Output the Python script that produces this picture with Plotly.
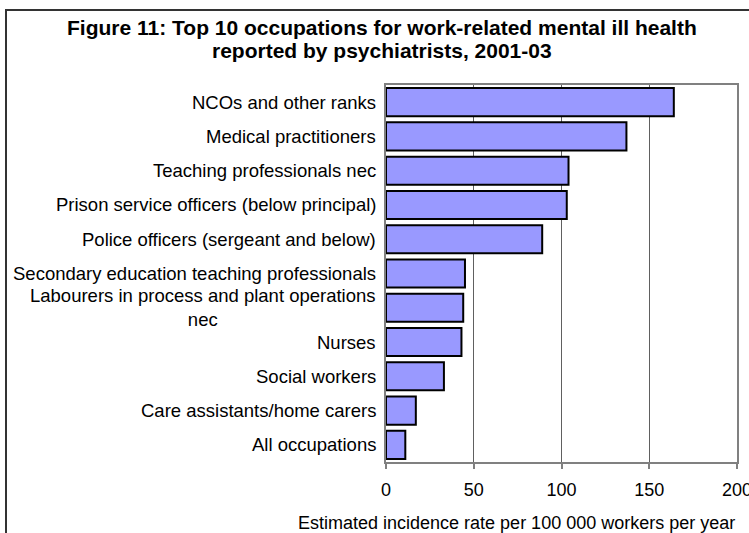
import plotly.graph_objects as go

# ---- data -------------------------------------------------------------------
occupations = [
    "NCOs and other ranks",
    "Medical practitioners",
    "Teaching professionals nec",
    "Prison service officers (below principal)",
    "Police officers (sergeant and below)",
    "Secondary education teaching professionals",
    "Labourers in process and plant operations<br>nec",
    "Nurses",
    "Social workers",
    "Care assistants/home carers",
    "All occupations",
]
rates = [164, 137, 104, 103, 89, 45, 44, 43, 33, 17, 11]
x_ticks = [0, 50, 100, 150, 200]
title_lines = ["Figure 11: Top 10 occupations for work-related mental ill health",
               "reported by psychiatrists, 2001-03"]

FONT = "Liberation Sans, Arial, sans-serif"
W, H = 749, 533
L, R, T, B = 386, 12, 85, 71          # plot area 386..737 x 85..462
pw, ph = W - L - R, H - T - B

def px_x(x): return (x - L) / pw      # pixel -> paper
def px_y(y): return 1 + (T - y) / ph

fig = go.Figure(go.Bar(
    y=occupations, x=rates, orientation="h",
    marker=dict(color="#9999FF", line=dict(color="black", width=2)),
))

# category labels as annotations so the wrapped one centres like Excel
for name in occupations:
    fig.add_annotation(x=0, xref="paper", y=name, yref="y", text=name,
                       xanchor="right", xshift=-8, align="center",
                       showarrow=False, font=dict(family=FONT, size=18.5, color="black"))

# title, one annotation per line (tighter leading than plotly's title)
for i, line in enumerate(title_lines):
    fig.add_annotation(x=px_x(382), xref="paper", y=px_y(27 + 23.5 * i), yref="paper",
                       text="<b>%s</b>" % line, xanchor="center", yanchor="middle",
                       showarrow=False, font=dict(family=FONT, size=21, color="black"))

# x-axis title (runs off the right edge in the original)
fig.add_annotation(x=px_x(296), xref="paper", y=px_y(523), yref="paper",
                   text="Estimated incidence rate per 100 000 workers per year",
                   xanchor="left", yanchor="middle", showarrow=False,
                   font=dict(family=FONT, size=18, color="black"))

# outer chart frame (only top/left visible in the crop)
fig.add_shape(type="rect", xref="paper", yref="paper",
              x0=px_x(6), x1=2.0, y0=-0.6, y1=px_y(10),
              line=dict(color="#333333", width=2), layer="below")

fig.update_layout(
    width=W, height=H, autosize=False,
    margin=dict(l=L, r=R, t=T, b=B, autoexpand=False),
    paper_bgcolor="white", plot_bgcolor="white",
    bargap=0.18, showlegend=False,
    font=dict(family=FONT, size=18, color="black"),
    xaxis=dict(
        range=[0, 200], tickvals=x_ticks, ticks="outside", ticklen=5,
        tickcolor="#808080", tickwidth=2, showline=True, linecolor="#808080",
        linewidth=2, mirror=True, showgrid=True, gridcolor="#606060", gridwidth=1,
        zeroline=False, tickfont=dict(size=18), ticklabelstandoff=5,
        ticklabeloverflow="allow", automargin=False,
    ),
    yaxis=dict(
        autorange="reversed", showticklabels=False, ticks="",
        showline=True, linecolor="#808080", linewidth=2, mirror=True,
        showgrid=False, automargin=False,
    ),
)

fig.write_html("out.html", config={"displayModeBar": False, "responsive": False},
               post_script="document.body.style.margin='0';"
                           "document.body.style.overflow='hidden';")
